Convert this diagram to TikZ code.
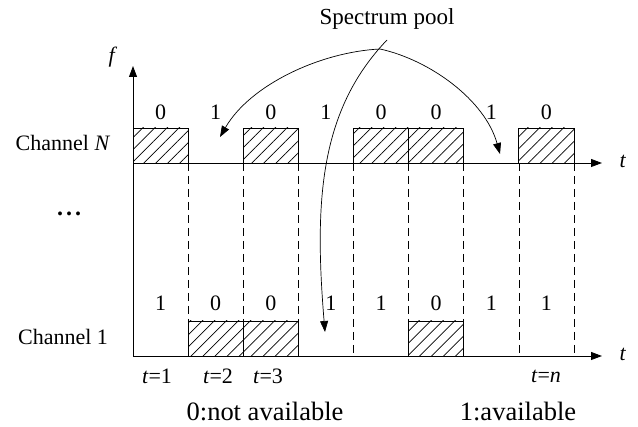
\documentclass[tikz,border=0pt]{standalone}
\usepackage{fontspec}
\setmainfont{Liberation Serif}
\usetikzlibrary{arrows.meta,patterns.meta}
\begin{document}
\begin{tikzpicture}[x=1pt,y=-1pt,
  axis/.style={line width=0.9pt,-{Triangle[length=11pt,width=8pt]}},
  hatch/.style={draw,line width=0.8pt,pattern={Lines[angle=45,distance=8.5pt,line width=0.7pt]}},
  slotline/.style={dash pattern=on 8pt off 5pt,line width=0.7pt},
  lbl/.style={font=\fontsize{22}{26}\selectfont,inner sep=0pt},
  big/.style={font=\fontsize{26.5}{30}\selectfont,inner sep=0pt},
  curve/.style={line width=0.7pt,-{Triangle[length=11pt,width=8pt]}}]
\useasboundingbox (0,0) rectangle (638,427);
\def\W{55.125}
% dashed slot boundaries
\foreach \i in {1,...,8}{
  \draw[slotline] ({133+\W*\i},163) -- ({133+\W*\i},356);
}
% hatched boxes, channel N
\foreach \i in {1,3,5,6,8}{
  \draw[hatch] ({133+\W*(\i-1)},128) rectangle ({133+\W*\i},163);
}
% hatched boxes, channel 1
\foreach \i in {2,3,6}{
  \draw[hatch] ({133+\W*(\i-1)},321) rectangle ({133+\W*\i},356);
}
% axes
\coordinate (o) at (133,356);
\coordinate (ftip) at (133,66);
\coordinate (nstart) at (133,163);
\coordinate (ntip) at (602,163);
\coordinate (btip) at (602,356);
\draw[axis] (o) -- (ftip);
\draw[axis] (nstart) -- (ntip);
\draw[axis] (o) -- (btip);
% axis labels
\node[lbl] (flab) at (113,57) {\textit{f}};
\node[lbl] (tN) at (623,161) {\textit{t}};
\node[lbl] (t1) at (623,354) {\textit{t}};
\node[lbl] (chN) at (63,143) {Channel \textit{N}};
\node[lbl] (ch1) at (63,337) {Channel 1};
\node[lbl,font=\fontsize{24}{26}\selectfont\bfseries] (dots) at (69,214) {.\kern3pt.\kern3pt.};
% slot values
\foreach \v [count=\i] in {0,1,0,1,0,0,1,0}{
  \node[lbl] (top\i) at ({133+\W*(\i-0.5)},112) {\v};
}
\foreach \v/\dx [count=\i] in {1/0,0/0,0/0,1/5,1/0,0/0,1/0,1/0}{
  \node[lbl] (bot\i) at ({133+\W*(\i-0.5)+\dx},303) {\v};
}
% time labels
\node[lbl] (ta) at (157,376) {\textit{t}=1};
\node[lbl] (tb) at (218,376) {\textit{t}=2};
\node[lbl] (tc) at (268,376) {\textit{t}=3};
\node[lbl] (tn) at (546,376) {\textit{t}=\textit{n}};
% legend
\node[big] (leg0) at (265,411) {0:not available};
\node[big] (leg1) at (518,411) {1:available};
% spectrum pool
\node[lbl,font=\fontsize{23}{26}\selectfont] (pool) at (387,19) {Spectrum pool};
\coordinate (ps) at (387,40);
\coordinate (apex) at (380,49);
\coordinate (la) at (220,137);
\coordinate (ra) at (500,154);
\coordinate (da) at (325,332);
\draw[curve] (ps) .. controls (320,110) and (314,200) .. (da);
\draw[curve] (apex) .. controls (320,52) and (250,85) .. (la);
\draw[curve] (apex) .. controls (430,60) and (485,100) .. (ra);
\end{tikzpicture}
\end{document}
